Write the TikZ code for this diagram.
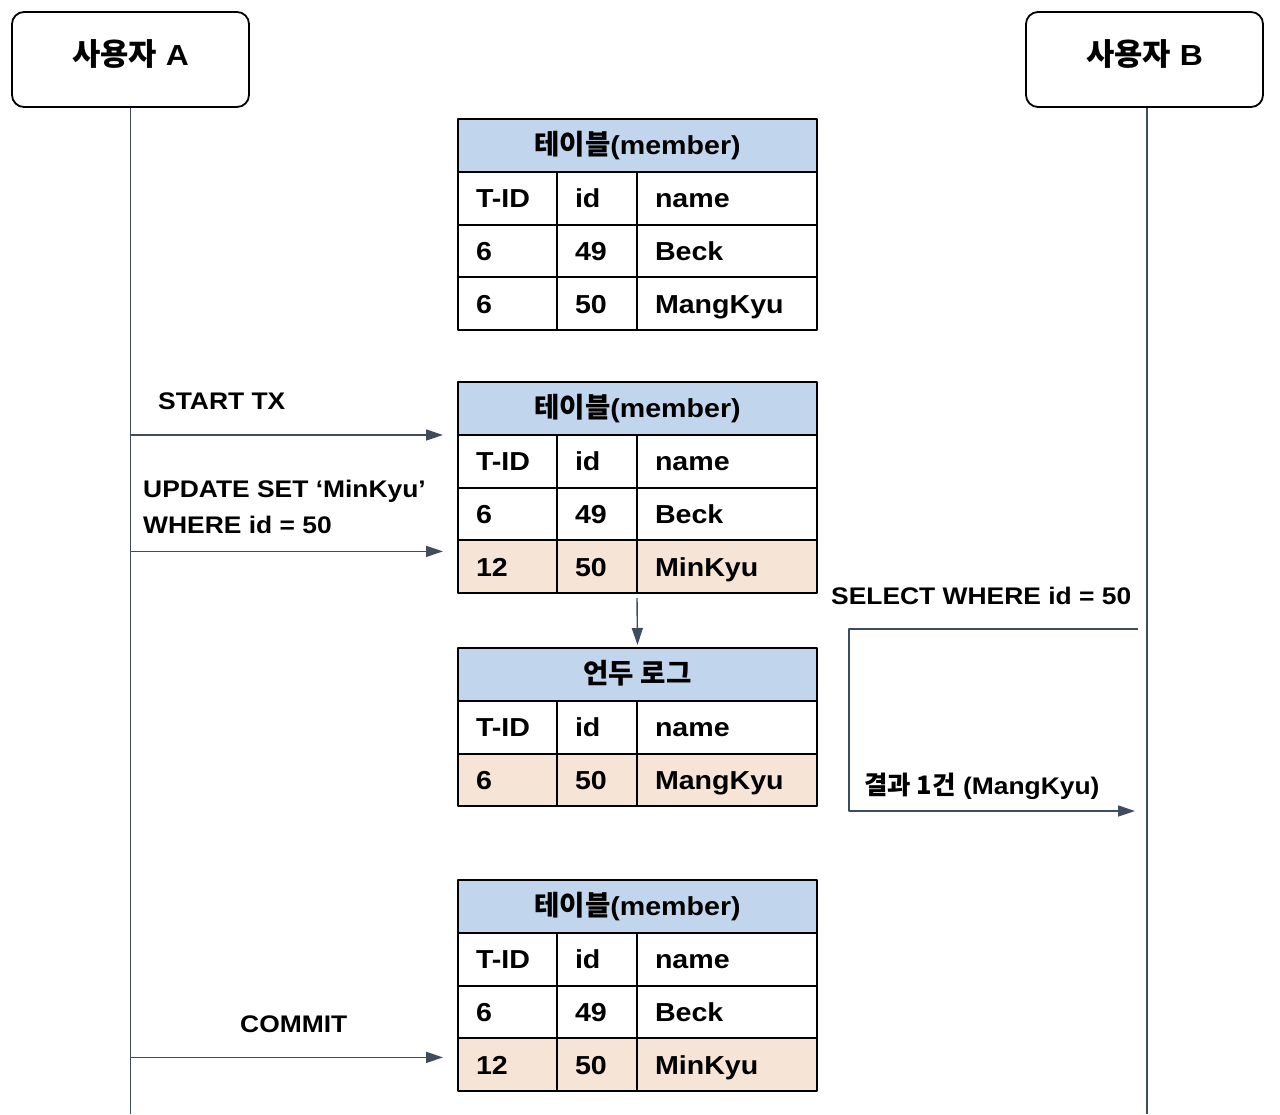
\documentclass[tikz,border=0pt]{standalone}
\usepackage{fontspec}
\setmainfont{Liberation Sans}[FakeStretch=1.1]
\newfontfamily\kr{Noto Sans CJK KR}[Scale=1.06]
\usetikzlibrary{arrows.meta}
\definecolor{lifeline}{HTML}{3F4C5E}
\definecolor{headblue}{HTML}{C1D6EC}
\definecolor{rowbeige}{HTML}{F6E5D6}

% one table row: name, top y, fill, T-ID, id, name
\newcommand{\tabrow}[6]{%
  \node[cell, fill=#3, text width=63pt] (#1a) at (458,#2) {#4};
  \node[cell, fill=#3, text width=44pt] (#1b) at (#1a.north east) {#5};
  \node[cell, fill=#3, text width=144pt] (#1c) at (#1b.north east) {#6};
}

\begin{document}
\begin{tikzpicture}[x=1pt, y=-1pt, line join=round,
  actor/.style={draw, line width=1.8pt, rounded corners=12pt, minimum width=237pt, minimum height=95pt,
    text height=20pt, text depth=7.6pt, font=\fontsize{29}{34}\selectfont\bfseries},
  life/.style={draw=lifeline, line width=1.4pt},
  msg/.style={draw=lifeline, line width=1.4pt, -{Triangle[length=17pt,width=11pt]}},
  headcell/.style={draw, line width=2pt, fill=headblue, minimum width=359pt, minimum height=53pt,
    outer sep=0pt, inner sep=0pt, anchor=north west, text height=23pt, text depth=4.5pt,
    font=\fontsize{26}{30}\selectfont\bfseries},
  cell/.style={draw, line width=2pt, outer sep=0pt, inner xsep=18pt, inner ysep=0pt, minimum height=52.7pt,
    align=left, text height=23pt, text depth=4.5pt, anchor=north west, font=\fontsize{26}{30}\selectfont\bfseries},
  lbl/.style={anchor=base west, inner sep=0pt, font=\fontsize{24}{28}\selectfont\bfseries}]
  \useasboundingbox (0,0) rectangle (1280,1114);

  % users and life lines
  \node[actor] (userA) at (130.5,59.5) {{\kr 사용자} A};
  \node[actor] (userB) at (1144.5,59.5) {{\kr 사용자} B};
  \coordinate (bottom) at (0,1114);
  \draw[life] (userA.south) -- (userA.south |- bottom);
  \draw[life] ([xshift=2.5pt]userB.south) -- ([xshift=2.5pt]userB.south |- bottom);

  % member table, before
  \node[headcell] (t1h) at (458,119) {{\kr 테이블}(member)};
  \tabrow{t1r1}{172}{white}{T-ID}{id}{name}
  \tabrow{t1r2}{224.7}{white}{6}{49}{Beck}
  \tabrow{t1r3}{277.4}{white}{6}{50}{MangKyu}

  % member table, after update
  \node[headcell] (t2h) at (458,382) {{\kr 테이블}(member)};
  \tabrow{t2r1}{435}{white}{T-ID}{id}{name}
  \tabrow{t2r2}{487.7}{white}{6}{49}{Beck}
  \tabrow{t2r3}{540.4}{rowbeige}{12}{50}{MinKyu}

  % undo log
  \node[headcell] (t3h) at (458,648) {{\kr 언두 로그}};
  \tabrow{t3r1}{701}{white}{T-ID}{id}{name}
  \tabrow{t3r2}{753.7}{rowbeige}{6}{50}{MangKyu}

  % member table, after commit
  \node[headcell] (t4h) at (458,880) {{\kr 테이블}(member)};
  \tabrow{t4r1}{933}{white}{T-ID}{id}{name}
  \tabrow{t4r2}{985.7}{white}{6}{49}{Beck}
  \tabrow{t4r3}{1038.4}{rowbeige}{12}{50}{MinKyu}

  \draw[msg] ([yshift=-5pt]t2r3b.south east) -- ([yshift=3pt]t3h.north);

  % user A calls
  \coordinate (txEnd) at ([xshift=-15pt]t2h.south west);
  \coordinate (updEnd) at ([xshift=-15pt,yshift=-11pt]t2r3a.north west);
  \coordinate (cmtEnd) at ([xshift=-15pt,yshift=-19pt]t4r3a.north west);
  \draw[msg] (userA.south |- txEnd) -- (txEnd);
  \draw[msg] (userA.south |- updEnd) -- (updEnd);
  \draw[msg] (userA.south |- cmtEnd) -- (cmtEnd);
  \node[lbl] (txLbl) at (158,409) {START TX};
  \node[lbl] (updLbl) at (143,497) {UPDATE SET ‘MinKyu’};
  \node[lbl] (whereLbl) at (143,533) {WHERE id = 50};
  \node[lbl] (cmtLbl) at (240,1032) {COMMIT};

  % user B reads
  \coordinate (selStart) at (1138,629);
  \coordinate (selEnd) at (1135,811);
  \draw[msg] (selStart) -- (849,629) |- (selEnd);
  \node[lbl] (selLbl) at (831,604) {SELECT WHERE id = 50};
  \node[lbl] (resLbl) at (864,794) {{\kr 결과 1건} (MangKyu)};
\end{tikzpicture}
\end{document}
